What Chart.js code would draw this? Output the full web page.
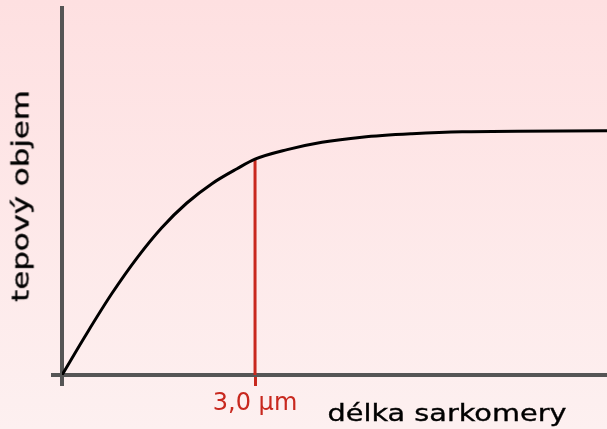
<!DOCTYPE html>
<html>
<head>
<meta charset="utf-8">
<script src="https://cdn.jsdelivr.net/npm/chart.js@4/dist/chart.umd.min.js"></script>
<style>
  html, body { margin: 0; padding: 0; }
  body { width: 607px; height: 429px; overflow: hidden;
         background: linear-gradient(to bottom, #fee0e1 0%, #fdf0f0 100%); }
  #wrap { position: relative; width: 607px; height: 429px; }
  canvas { position: absolute; left: 0; top: 0; }
  .lbl { position: absolute; font-family: 'DejaVu Sans', sans-serif; font-size: 23px;
         line-height: 23px; white-space: nowrap; color: #000; -webkit-text-stroke: 0.35px #000; }
  #xt { left: 447px; top: 402px; transform: translateX(-50%) scaleX(1.25); }
  #yt { left: 20.5px; top: 196px; transform: translate(-50%, -50%) rotate(-90deg) scaleX(1.34); }
</style>
</head>
<body>
<div id="wrap">
  <canvas id="c" width="607" height="429"></canvas>
  <div class="lbl" id="xt">délka sarkomery</div>
  <div class="lbl" id="yt">tepový objem</div>
</div>
<script>
// sarcomere length (µm, schematic) and relative stroke volume
const sarcomereLength = [0, 0.39, 0.78, 1.17, 1.55, 1.94, 2.33, 2.72, 3.0, 3.50, 4.04, 4.66, 5.44, 6.22, 8.47];
const strokeVolume    = [0, 0.172, 0.335, 0.48, 0.602, 0.703, 0.782, 0.843, 0.882, 0.921, 0.951, 0.972, 0.986, 0.994, 0.998];
// marked optimum
const markerX = [3.0, 3.0];
const markerY = [0, 0.882];
// x tick values and labels
const xTickValues = [0, 3.0];
const xTickLabels = ['', '3,0 µm'];
const xTitle = 'délka sarkomery';
const yTitle = 'tepový objem';

const RED = '#c8281e';
const AXIS = '#555555';

Chart.defaults.font.family = "'DejaVu Sans', sans-serif";

new Chart(document.getElementById('c'), {
  type: 'line',
  data: {
    datasets: [
      {
        data: sarcomereLength.map((x, i) => ({ x, y: strokeVolume[i] })),
        borderColor: '#000000', borderWidth: 3, pointRadius: 0,
        cubicInterpolationMode: 'monotone', fill: false, order: 1
      },
      {
        data: markerX.map((x, i) => ({ x, y: markerY[i] })),
        borderColor: RED, borderWidth: 3, pointRadius: 0, fill: false, order: 2
      }
    ]
  },
  options: {
    responsive: false,
    animation: false,
    layout: { padding: { left: 0, right: 0, top: 8, bottom: 0 } },
    plugins: { legend: { display: false }, tooltip: { enabled: false }, title: { display: false } },
    scales: {
      x: {
        type: 'linear', min: 0, max: 8.47,
        afterBuildTicks: s => { s.ticks = xTickValues.map(v => ({ value: v })); },
        afterFit: s => { s.height = 54; },
        border: { display: true, color: AXIS, width: 4 },
        grid: {
          drawOnChartArea: false, drawTicks: true, tickLength: 11,
          color: c => (c.tick && c.tick.value === 0) ? AXIS : RED,
          lineWidth: c => (c.tick && c.tick.value === 0) ? 4 : 3
        },
        ticks: {
          autoSkip: false, maxRotation: 0, padding: 3,
          color: RED, font: { size: 24 },
          callback: v => xTickLabels[xTickValues.indexOf(v)] ?? ''
        },
        title: { display: false, text: xTitle }
      },
      y: {
        type: 'linear', min: 0, max: 1.5,
        afterBuildTicks: s => { s.ticks = [{ value: 0 }]; },
        afterFit: s => { s.width = 62; },
        border: { display: true, color: AXIS, width: 4 },
        grid: { drawOnChartArea: false, drawTicks: true, tickLength: 11, color: AXIS, lineWidth: 4 },
        ticks: { display: false },
        title: { display: false, text: yTitle }
      }
    }
  }
});
</script>
</body>
</html>
